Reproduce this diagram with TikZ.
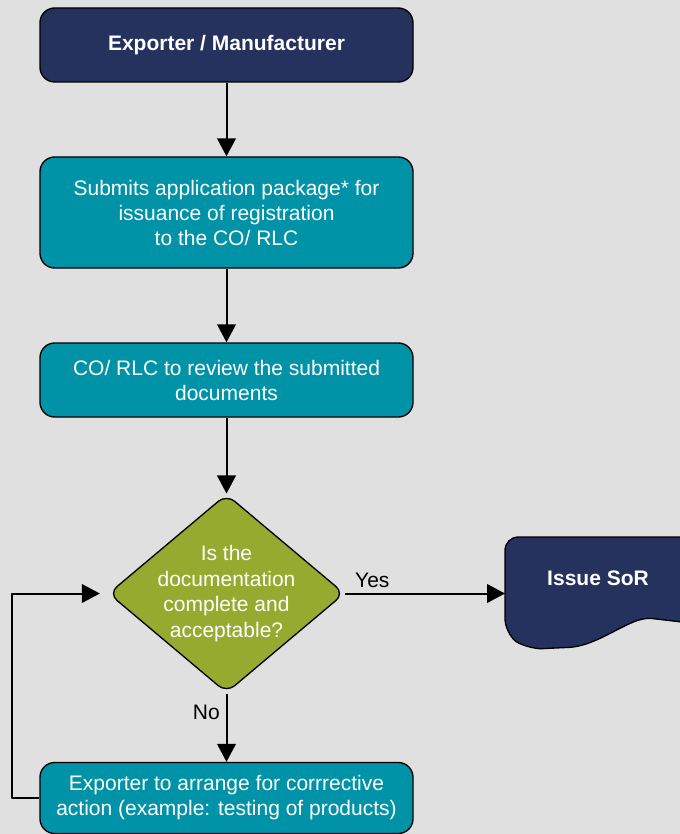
\documentclass[tikz,border=0pt]{standalone}
\usepackage{fontspec}
\setmainfont{Liberation Sans}
\usetikzlibrary{shapes.geometric,arrows.meta}
\definecolor{navybox}{RGB}{37,50,94}
\definecolor{tealbox}{RGB}{0,147,168}
\definecolor{olivebox}{RGB}{151,170,48}
\definecolor{bggray}{RGB}{224,224,224}
\begin{document}
\begin{tikzpicture}[x=0.75pt,y=-0.75pt,line join=round,>={Triangle[length=13.5pt,width=14pt]},
	box/.style={draw=black,line width=1pt,rounded corners=11pt,minimum width=279.75pt,align=center,text=white,font=\fontsize{15.75}{18.75}\selectfont},
	navy/.style={box,fill=navybox,font=\fontsize{15.75}{18.75}\selectfont\bfseries},
	teal/.style={box,fill=tealbox},
	check/.style={diamond,draw=black,line width=1pt,rounded corners=8pt,fill=olivebox,minimum width=177pt,minimum height=149pt,inner sep=-30pt,align=center,text=white,font=\fontsize{15.75}{19.1}\selectfont},
	flow/.style={->,line width=1.5pt},
	lbl/.style={font=\fontsize{15.75}{18}\selectfont}]
	\fill[bggray] (0,0) rectangle (680,834);
	\useasboundingbox (0,0) rectangle (680,834);
	% process boxes
	\node[navy,minimum height=55.5pt] (exporter) at (226.5,45) {Exporter / Manufacturer};
	\node[teal,minimum height=83.25pt] (submit) at (226.5,212.5) {Submits application package* for\\issuance of registration\\to the CO/ RLC};
	\node[teal,minimum height=55.5pt] (review) at (226.5,380) {CO/ RLC to review the submitted\\documents};
	\node[check] (check) at (226.5,593.5) {Is the\\documentation\\complete and\\acceptable?};
	\node[teal,minimum height=53.25pt] (corrective) at (226.5,798) {Exporter to arrange for corrrective\\action (example: testing of products)};
	% document shape, cut by the page edge
	\draw[line width=1pt,fill=navybox,rounded corners=10pt] (720,630) -- (720,537) -- (505,537) -- (505,632)
		.. controls (520,645) and (535,649) .. (555,648)
		.. controls (600,646) and (630,616) .. (665,620)
		.. controls (690,623) and (705,628) .. (720,630) -- cycle;
	\node[text=white,font=\fontsize{15.75}{18}\selectfont\bfseries] (sor) at (598,578) {Issue SoR};
	\coordinate (sorin) at (505,593.5);
	% connectors
	\foreach \a/\b in {exporter/submit,submit/review,review/check} \draw[flow] (\a) -- (\b);
	\draw[flow] (check.east) -- (sorin) node[lbl,pos=0.17,above] {Yes};
	\draw[flow] (check.south) -- (corrective) node[lbl,pos=0.27,left,xshift=-1pt] {No};
	\draw[flow] (corrective.west) -| (12,650) |- ([xshift=-6pt]check.west);
\end{tikzpicture}
\end{document}
